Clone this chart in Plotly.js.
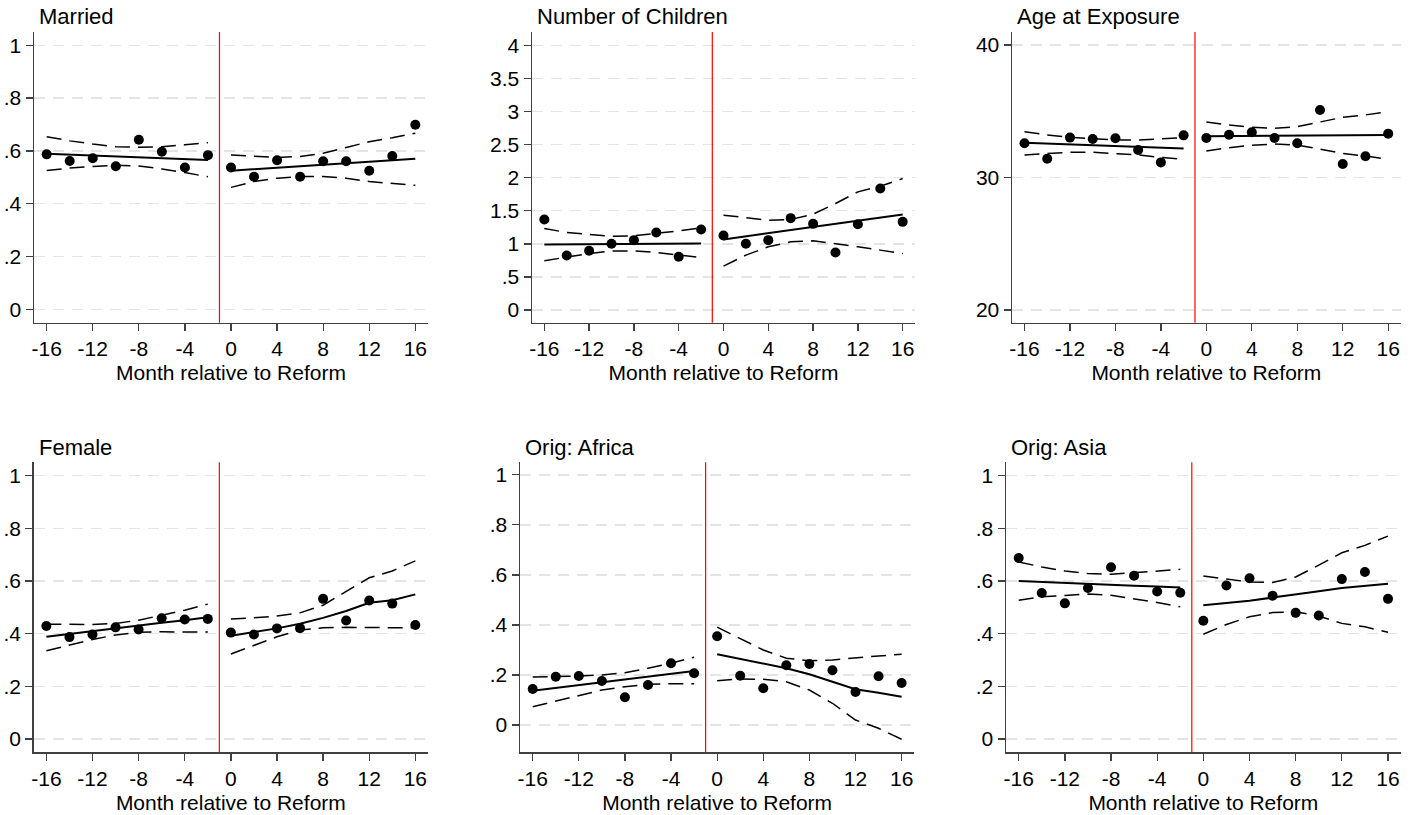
<!DOCTYPE html>
<html>
<head>
<meta charset="utf-8">
<script src="https://cdn.plot.ly/plotly-3.0.1.min.js"></script>
<style>
  body { margin: 0; background: #fff; }
  #chart { width: 1416px; height: 815px; }
</style>
</head>
<body>
<div id="chart"></div>
<script>
// months on each side of the reform
const monthsPre = [-16, -14, -12, -10, -8, -6, -4, -2];
const monthsPost = [0, 2, 4, 6, 8, 10, 12, 14, 16];
const reformCut = -1;

const xTickVals = [-16, -12, -8, -4, 0, 4, 8, 12, 16];
const xTickText = ['-16', '-12', '-8', '-4', '0', '4', '8', '12', '16'];

const panelTitles = ['Married', 'Number of Children', 'Age at Exposure', 'Female', 'Orig: Africa', 'Orig: Asia'];

// Married
const marriedPre = [0.587, 0.562, 0.572, 0.542, 0.642, 0.597, 0.537, 0.584];
const marriedPost = [0.537, 0.502, 0.565, 0.502, 0.561, 0.561, 0.525, 0.581, 0.699];
const marriedFitPre = [0.589, 0.586, 0.582, 0.579, 0.576, 0.573, 0.569, 0.566];
const marriedFitPost = [0.525, 0.530, 0.536, 0.542, 0.548, 0.553, 0.559, 0.564, 0.570];
const marriedHiPre = [0.654, 0.638, 0.626, 0.616, 0.614, 0.616, 0.623, 0.631];
const marriedLoPre = [0.526, 0.535, 0.541, 0.546, 0.543, 0.532, 0.518, 0.502];
const marriedHiPost = [0.585, 0.579, 0.575, 0.579, 0.591, 0.613, 0.635, 0.650, 0.667];
const marriedLoPost = [0.462, 0.484, 0.497, 0.503, 0.503, 0.497, 0.484, 0.478, 0.470];

// Number of children
const childPre = [1.369, 0.825, 0.896, 1.001, 1.057, 1.172, 0.805, 1.218];
const childPost = [1.127, 1.001, 1.057, 1.389, 1.303, 0.870, 1.298, 1.836, 1.333];
const childFitPre = [0.991, 0.993, 0.995, 0.997, 1.000, 1.002, 1.004, 1.006];
const childFitPost = [1.067, 1.114, 1.161, 1.208, 1.255, 1.302, 1.350, 1.397, 1.444];
const childHiPre = [1.233, 1.172, 1.142, 1.117, 1.122, 1.157, 1.197, 1.243];
const childLoPre = [0.745, 0.805, 0.855, 0.891, 0.896, 0.870, 0.830, 0.795];
const childHiPost = [1.434, 1.399, 1.358, 1.369, 1.449, 1.610, 1.786, 1.872, 1.987];
const childLoPost = [0.664, 0.830, 0.956, 1.031, 1.047, 1.006, 0.956, 0.906, 0.855];

// Age at exposure
const agePre = [32.58, 31.42, 33.01, 32.91, 32.96, 32.08, 31.14, 33.18];
const agePost = [32.98, 33.23, 33.41, 32.98, 32.58, 35.09, 31.02, 31.60, 33.31];
const ageFitPre = [32.63, 32.57, 32.50, 32.44, 32.38, 32.31, 32.25, 32.18];
const ageFitPost = [33.11, 33.12, 33.13, 33.15, 33.16, 33.17, 33.18, 33.20, 33.21];
const ageHiPre = [33.46, 33.21, 33.03, 32.91, 32.83, 32.83, 32.91, 33.01];
const ageLoPre = [31.70, 31.82, 31.90, 31.90, 31.82, 31.70, 31.52, 31.37];
const ageHiPost = [34.19, 33.96, 33.79, 33.71, 33.84, 34.21, 34.54, 34.72, 34.97];
const ageLoPost = [32.00, 32.25, 32.43, 32.53, 32.45, 32.13, 31.82, 31.62, 31.37];

// Female
const femalePre = [0.429, 0.387, 0.397, 0.424, 0.416, 0.458, 0.454, 0.456];
const femalePost = [0.404, 0.397, 0.420, 0.421, 0.532, 0.450, 0.526, 0.514, 0.433];
const femaleFitPre = [0.388, 0.399, 0.409, 0.420, 0.430, 0.441, 0.451, 0.462];
const femaleFitPost = [0.392, 0.405, 0.420, 0.438, 0.460, 0.486, 0.517, 0.527, 0.549];
const femaleHiPre = [0.436, 0.436, 0.435, 0.439, 0.451, 0.470, 0.489, 0.512];
const femaleLoPre = [0.335, 0.357, 0.378, 0.395, 0.405, 0.407, 0.407, 0.406];
const femaleHiPost = [0.456, 0.460, 0.467, 0.479, 0.508, 0.559, 0.612, 0.638, 0.676];
const femaleLoPost = [0.323, 0.357, 0.388, 0.414, 0.422, 0.424, 0.424, 0.422, 0.422];

// Origin: Africa
const africaPre = [0.144, 0.193, 0.196, 0.176, 0.111, 0.160, 0.247, 0.207];
const africaPost = [0.355, 0.197, 0.147, 0.239, 0.244, 0.219, 0.132, 0.195, 0.168];
const africaFitPre = [0.137, 0.148, 0.160, 0.171, 0.182, 0.193, 0.205, 0.216];
const africaFitPost = [0.283, 0.265, 0.247, 0.227, 0.203, 0.173, 0.143, 0.129, 0.113];
const africaHiPre = [0.192, 0.193, 0.196, 0.200, 0.209, 0.227, 0.247, 0.271];
const africaLoPre = [0.073, 0.096, 0.120, 0.140, 0.153, 0.163, 0.165, 0.165];
const africaHiPost = [0.391, 0.347, 0.300, 0.267, 0.257, 0.260, 0.269, 0.276, 0.283];
const africaLoPost = [0.177, 0.184, 0.183, 0.173, 0.140, 0.087, 0.020, -0.013, -0.057];

// Origin: Asia
const asiaPre = [0.687, 0.554, 0.515, 0.573, 0.652, 0.620, 0.560, 0.555];
const asiaPost = [0.449, 0.583, 0.610, 0.544, 0.479, 0.469, 0.607, 0.634, 0.532];
const asiaFitPre = [0.600, 0.596, 0.593, 0.589, 0.586, 0.582, 0.579, 0.575];
const asiaFitPost = [0.508, 0.516, 0.525, 0.537, 0.548, 0.561, 0.573, 0.581, 0.589];
const asiaHiPre = [0.672, 0.653, 0.638, 0.628, 0.625, 0.631, 0.637, 0.644];
const asiaLoPre = [0.527, 0.540, 0.545, 0.550, 0.546, 0.533, 0.518, 0.502];
const asiaHiPost = [0.619, 0.607, 0.596, 0.594, 0.615, 0.660, 0.707, 0.735, 0.770];
const asiaLoPost = [0.398, 0.435, 0.464, 0.480, 0.483, 0.467, 0.439, 0.426, 0.405];

// y ticks
const shareTickVals = [0, 0.2, 0.4, 0.6, 0.8, 1];
const shareTickText = ['0', '.2', '.4', '.6', '.8', '1'];
const childTickVals = [0, 0.5, 1, 1.5, 2, 2.5, 3, 3.5, 4];
const childTickText = ['0', '.5', '1', '1.5', '2', '2.5', '3', '3.5', '4'];
const ageTickVals = [20, 30, 40];
const ageTickText = ['20', '30', '40'];

const panels = [
  {pts: [marriedPre, marriedPost], fit: [marriedFitPre, marriedFitPost], hi: [marriedHiPre, marriedHiPost], lo: [marriedLoPre, marriedLoPost],
   yr: [-0.05, 1.05], tv: shareTickVals, tt: shareTickText, dx: [34, 428], dy: [32, 322.7]},
  {pts: [childPre, childPost], fit: [childFitPre, childFitPost], hi: [childHiPre, childHiPost], lo: [childLoPre, childLoPost],
   yr: [-0.19, 4.2], tv: childTickVals, tt: childTickText, dx: [532, 915], dy: [32, 322.7]},
  {pts: [agePre, agePost], fit: [ageFitPre, ageFitPost], hi: [ageHiPre, ageHiPost], lo: [ageLoPre, ageLoPost],
   yr: [19.04, 40.98], tv: ageTickVals, tt: ageTickText, dx: [1012, 1400.7], dy: [32, 322.7]},
  {pts: [femalePre, femalePost], fit: [femaleFitPre, femaleFitPost], hi: [femaleHiPre, femaleHiPost], lo: [femaleLoPre, femaleLoPost],
   yr: [-0.05, 1.05], tv: shareTickVals, tt: shareTickText, dx: [33.7, 428], dy: [462.3, 752.3]},
  {pts: [africaPre, africaPost], fit: [africaFitPre, africaFitPost], hi: [africaHiPre, africaHiPost], lo: [africaLoPre, africaLoPost],
   yr: [-0.109, 1.05], tv: shareTickVals, tt: shareTickText, dx: [520, 914.3], dy: [462.3, 752.3]},
  {pts: [asiaPre, asiaPost], fit: [asiaFitPre, asiaFitPost], hi: [asiaHiPre, asiaHiPost], lo: [asiaLoPre, asiaLoPost],
   yr: [-0.05, 1.05], tv: shareTickVals, tt: shareTickText, dx: [1006, 1400.7], dy: [462.3, 752.3]}
];

const W = 1416, H = 815;
const fontFam = 'Liberation Sans, Arial, sans-serif';
let data = [];
let layout = {
  width: W, height: H,
  margin: {l: 0, r: 0, t: 0, b: 0},
  paper_bgcolor: '#ffffff',
  plot_bgcolor: '#ffffff',
  showlegend: false,
  font: {family: fontFam, size: 21, color: '#000'},
  shapes: [],
  annotations: []
};

panels.forEach(function (p, i) {
  const n = i + 1;
  const xa = 'x' + (n === 1 ? '' : n);
  const ya = 'y' + (n === 1 ? '' : n);
  const xs = [monthsPre, monthsPost];

  for (let s = 0; s < 2; s++) {
    data.push({x: xs[s], y: p.hi[s], xaxis: xa, yaxis: ya, mode: 'lines',
      line: {color: '#000', width: 1.5, dash: '15px,8px'}, hoverinfo: 'skip'});
    data.push({x: xs[s], y: p.lo[s], xaxis: xa, yaxis: ya, mode: 'lines',
      line: {color: '#000', width: 1.5, dash: '15px,8px'}, hoverinfo: 'skip'});
    data.push({x: xs[s], y: p.fit[s], xaxis: xa, yaxis: ya, mode: 'lines',
      line: {color: '#000', width: 2}});
    data.push({x: xs[s], y: p.pts[s], xaxis: xa, yaxis: ya, mode: 'markers',
      marker: {color: '#000', size: 10}});
  }

  const suffix = n === 1 ? '' : n;
  layout['xaxis' + suffix] = {
    domain: [p.dx[0] / W, p.dx[1] / W],
    anchor: ya,
    range: [-17.1, 17.1],
    tickvals: xTickVals, ticktext: xTickText,
    ticks: 'outside', ticklen: 7, tickwidth: 1.3, tickcolor: '#404040',
    showline: true, linecolor: '#404040', linewidth: 1.5,
    showgrid: false, zeroline: false,
    tickfont: {size: 21},
    title: {text: 'Month relative to Reform', font: {size: 21}, standoff: 6}
  };
  layout['yaxis' + suffix] = {
    domain: [(H - p.dy[1]) / H, (H - p.dy[0]) / H],
    anchor: xa,
    range: p.yr,
    tickvals: p.tv, ticktext: p.tt,
    ticks: 'outside', ticklen: 7, tickwidth: 1.3, tickcolor: '#404040',
    showline: true, linecolor: '#404040', linewidth: 1.5,
    showgrid: true, gridcolor: '#e4e4e4', gridwidth: 1.4, griddash: '11px,8px',
    zeroline: false,
    tickfont: {size: 21}
  };

  layout.shapes.push({type: 'line', xref: xa, yref: ya + ' domain',
    x0: reformCut, x1: reformCut, y0: 0, y1: 1,
    line: {color: '#ff0000', width: 1.2}});

  layout.annotations.push({text: panelTitles[i], xref: 'paper', yref: 'paper',
    x: (p.dx[0] + 3) / W, y: (H - (p.dy[0] - 15)) / H,
    xanchor: 'left', yanchor: 'middle', showarrow: false,
    font: {size: 22, color: '#000'}});
});

Plotly.newPlot('chart', data, layout, {staticPlot: true});
</script>
</body>
</html>
